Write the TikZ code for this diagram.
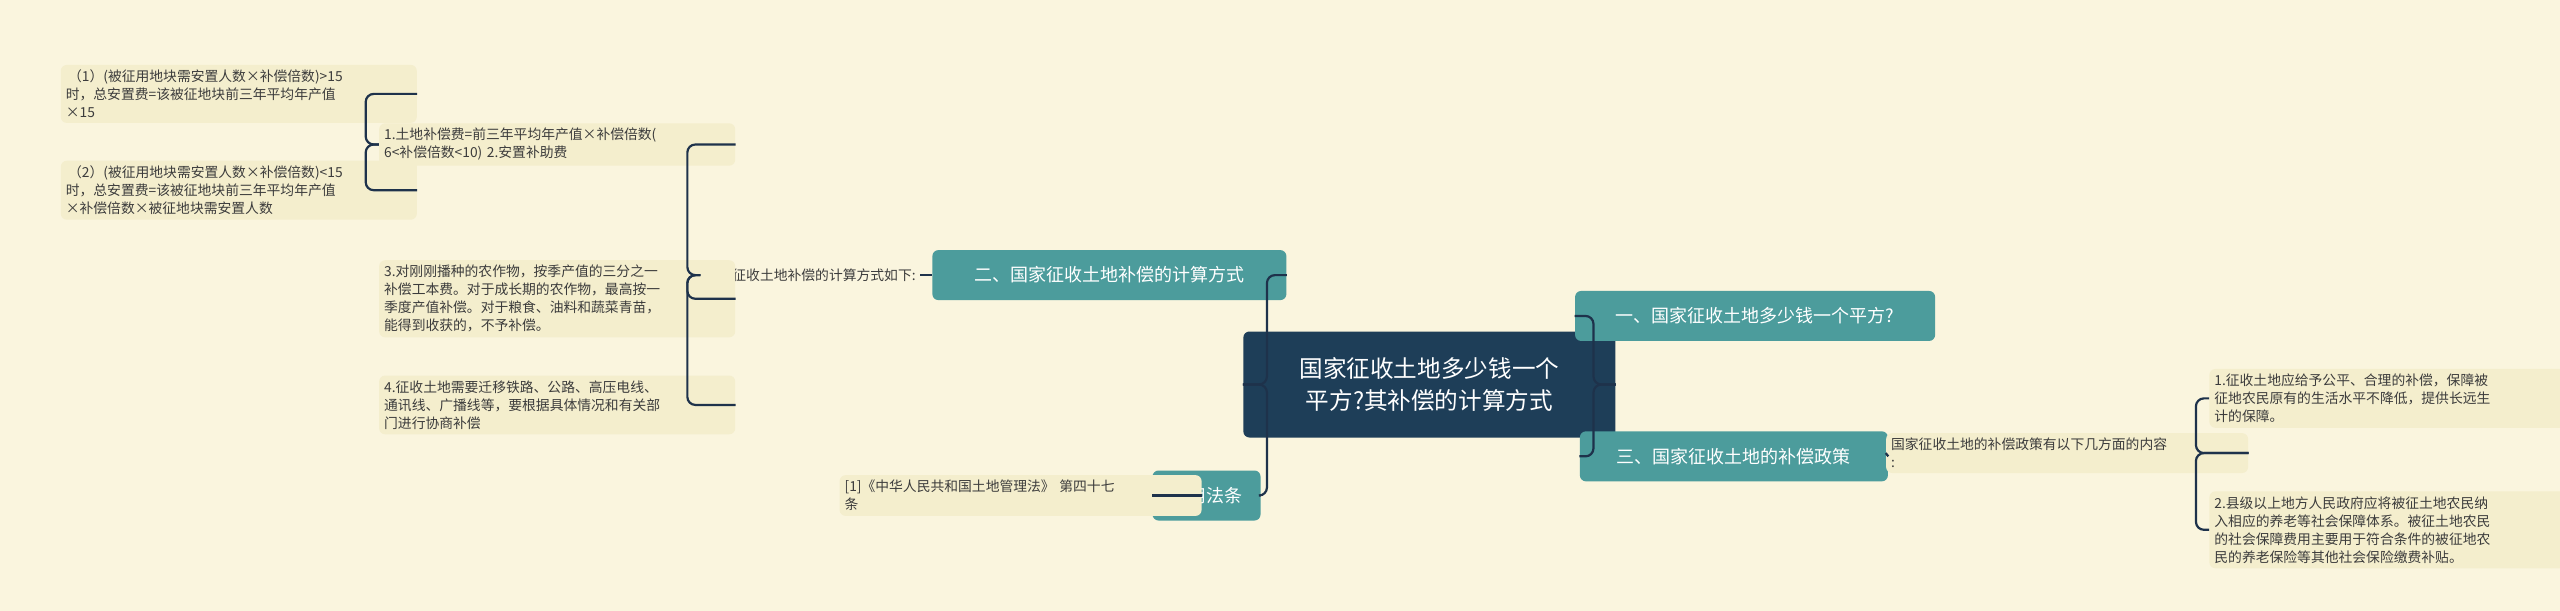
\documentclass[tikz,border=0pt]{standalone}
\usepackage{fontspec}
\setmainfont{Noto Sans CJK SC}
\begin{document}
\begin{tikzpicture}[x=0.8163pt,y=0.8163pt,
  leaf/.style={fill=leafc,rounded corners=3pt,align=left,inner sep=2.5pt,anchor=west,font=\fontsize{6.9}{9}\selectfont,text=txt},
  plain/.style={align=left,inner sep=2pt,anchor=west,font=\fontsize{6.9}{9}\selectfont,text=txt},
  teal/.style={fill=tealc,rounded corners=3pt,text=white,inner sep=4pt,font=\fontsize{9}{11}\selectfont},
  conn/.style={draw=linec,line width=1.1pt,rounded corners=4pt}]
\definecolor{bg}{RGB}{250,245,222}
\definecolor{leafc}{RGB}{244,238,205}
\definecolor{tealc}{RGB}{76,156,156}
\definecolor{rootc}{RGB}{30,62,88}
\definecolor{linec}{RGB}{30,50,75}
\definecolor{txt}{RGB}{60,60,60}
\fill[bg] (0,0) rectangle (1568,-374);
\useasboundingbox (0,0) rectangle (1568,-374);
% root
\node[fill=rootc,rounded corners=3pt,text=white,align=center,font=\fontsize{11.8}{16}\selectfont,minimum width=186,minimum height=53] (root) at (875.5,-235.5) {国家征收土地多少钱一个\\平方?其补偿的计算方式};
% right
\node[teal,minimum width=180,minimum height=25] (r1) at (1075,-193.5) {一、国家征收土地多少钱一个平方?};
\node[teal,minimum width=154,minimum height=25] (r3) at (1062,-279.5) {三、国家征收土地的补偿政策};
\node[leaf,text width=176] (s3) at (1155,-277.5) {国家征收土地的补偿政策有以下几方面的内容\\:};
\node[leaf,text width=173] (p1) at (1353,-244) {1.征收土地应给予公平、合理的补偿，保障被\\征地农民原有的生活水平不降低，提供长远生\\计的保障。};
\node[leaf,text width=173] (p2) at (1353,-324.5) {2.县级以上地方人民政府应将被征土地农民纳\\入相应的养老等社会保障体系。被征土地农民\\的社会保障费用主要用于符合条件的被征地农\\民的养老保险等其他社会保险缴费补贴。};
% left
\node[teal,minimum width=177,minimum height=25] (l2) at (679.5,-168.5) {二、国家征收土地补偿的计算方式};
\node[teal,minimum width=54,minimum height=25] (law) at (739,-303.5) {引用法条};
\node[leaf,text width=176] (lawt) at (514,-303.5) {[1]《中华人民共和国土地管理法》 第四十七\\条};
\node[plain] (calc) at (429,-168.5) {国家征收土地补偿的计算方式如下:};
\node[leaf,text width=173] (c1) at (232,-88.5) {1.土地补偿费=前三年平均年产值×补偿倍数(\\6<补偿倍数<10) 2.安置补助费};
\node[leaf,text width=173] (c3) at (232,-183) {3.对刚刚播种的农作物，按季产值的三分之一\\补偿工本费。对于成长期的农作物，最高按一\\季度产值补偿。对于粮食、油料和蔬菜青苗，\\能得到收获的，不予补偿。};
\node[leaf,text width=173] (c4) at (232,-248) {4.征收土地需要迁移铁路、公路、高压电线、\\通讯线、广播线等，要根据具体情况和有关部\\门进行协商补偿};
\node[leaf,text width=173] (d1) at (37,-57.5) {\,（1）(被征用地块需安置人数×补偿倍数)>15\\时，总安置费=该被征地块前三年平均年产值\\×15};
\node[leaf,text width=173] (d2) at (37,-116.5) {\,（2）(被征用地块需安置人数×补偿倍数)<15\\时，总安置费=该被征地块前三年平均年产值\\×补偿倍数×被征地块需安置人数};
% connectors
\draw[conn] (root.east) -- (976,-235.5) |- (r1.west);
\draw[conn] (root.east) -- (976,-235.5) |- (r3.west);
\draw[conn] (r3.east) -- (s3.west);
\draw[conn] (s3.east) -- (1345,-277.5) |- (p1.west);
\draw[conn] (s3.east) -- (1345,-277.5) |- (p2.west);
\draw[conn] (root.west) -- (776,-235.5) |- (l2.east);
\draw[conn] (root.west) -- (776,-235.5) |- (law.east);
\draw[conn] (law.west) -- (lawt.east);
\draw[conn] (l2.west) -- (calc.east);
\draw[conn] (calc.west) -- (421,-168.5) |- (c1.east);
\draw[conn] (calc.west) -- (421,-168.5) |- (c3.east);
\draw[conn] (calc.west) -- (421,-168.5) |- (c4.east);
\draw[conn] (c1.west) -- (224,-88.5) |- (d1.east);
\draw[conn] (c1.west) -- (224,-88.5) |- (d2.east);
\end{tikzpicture}
\end{document}
